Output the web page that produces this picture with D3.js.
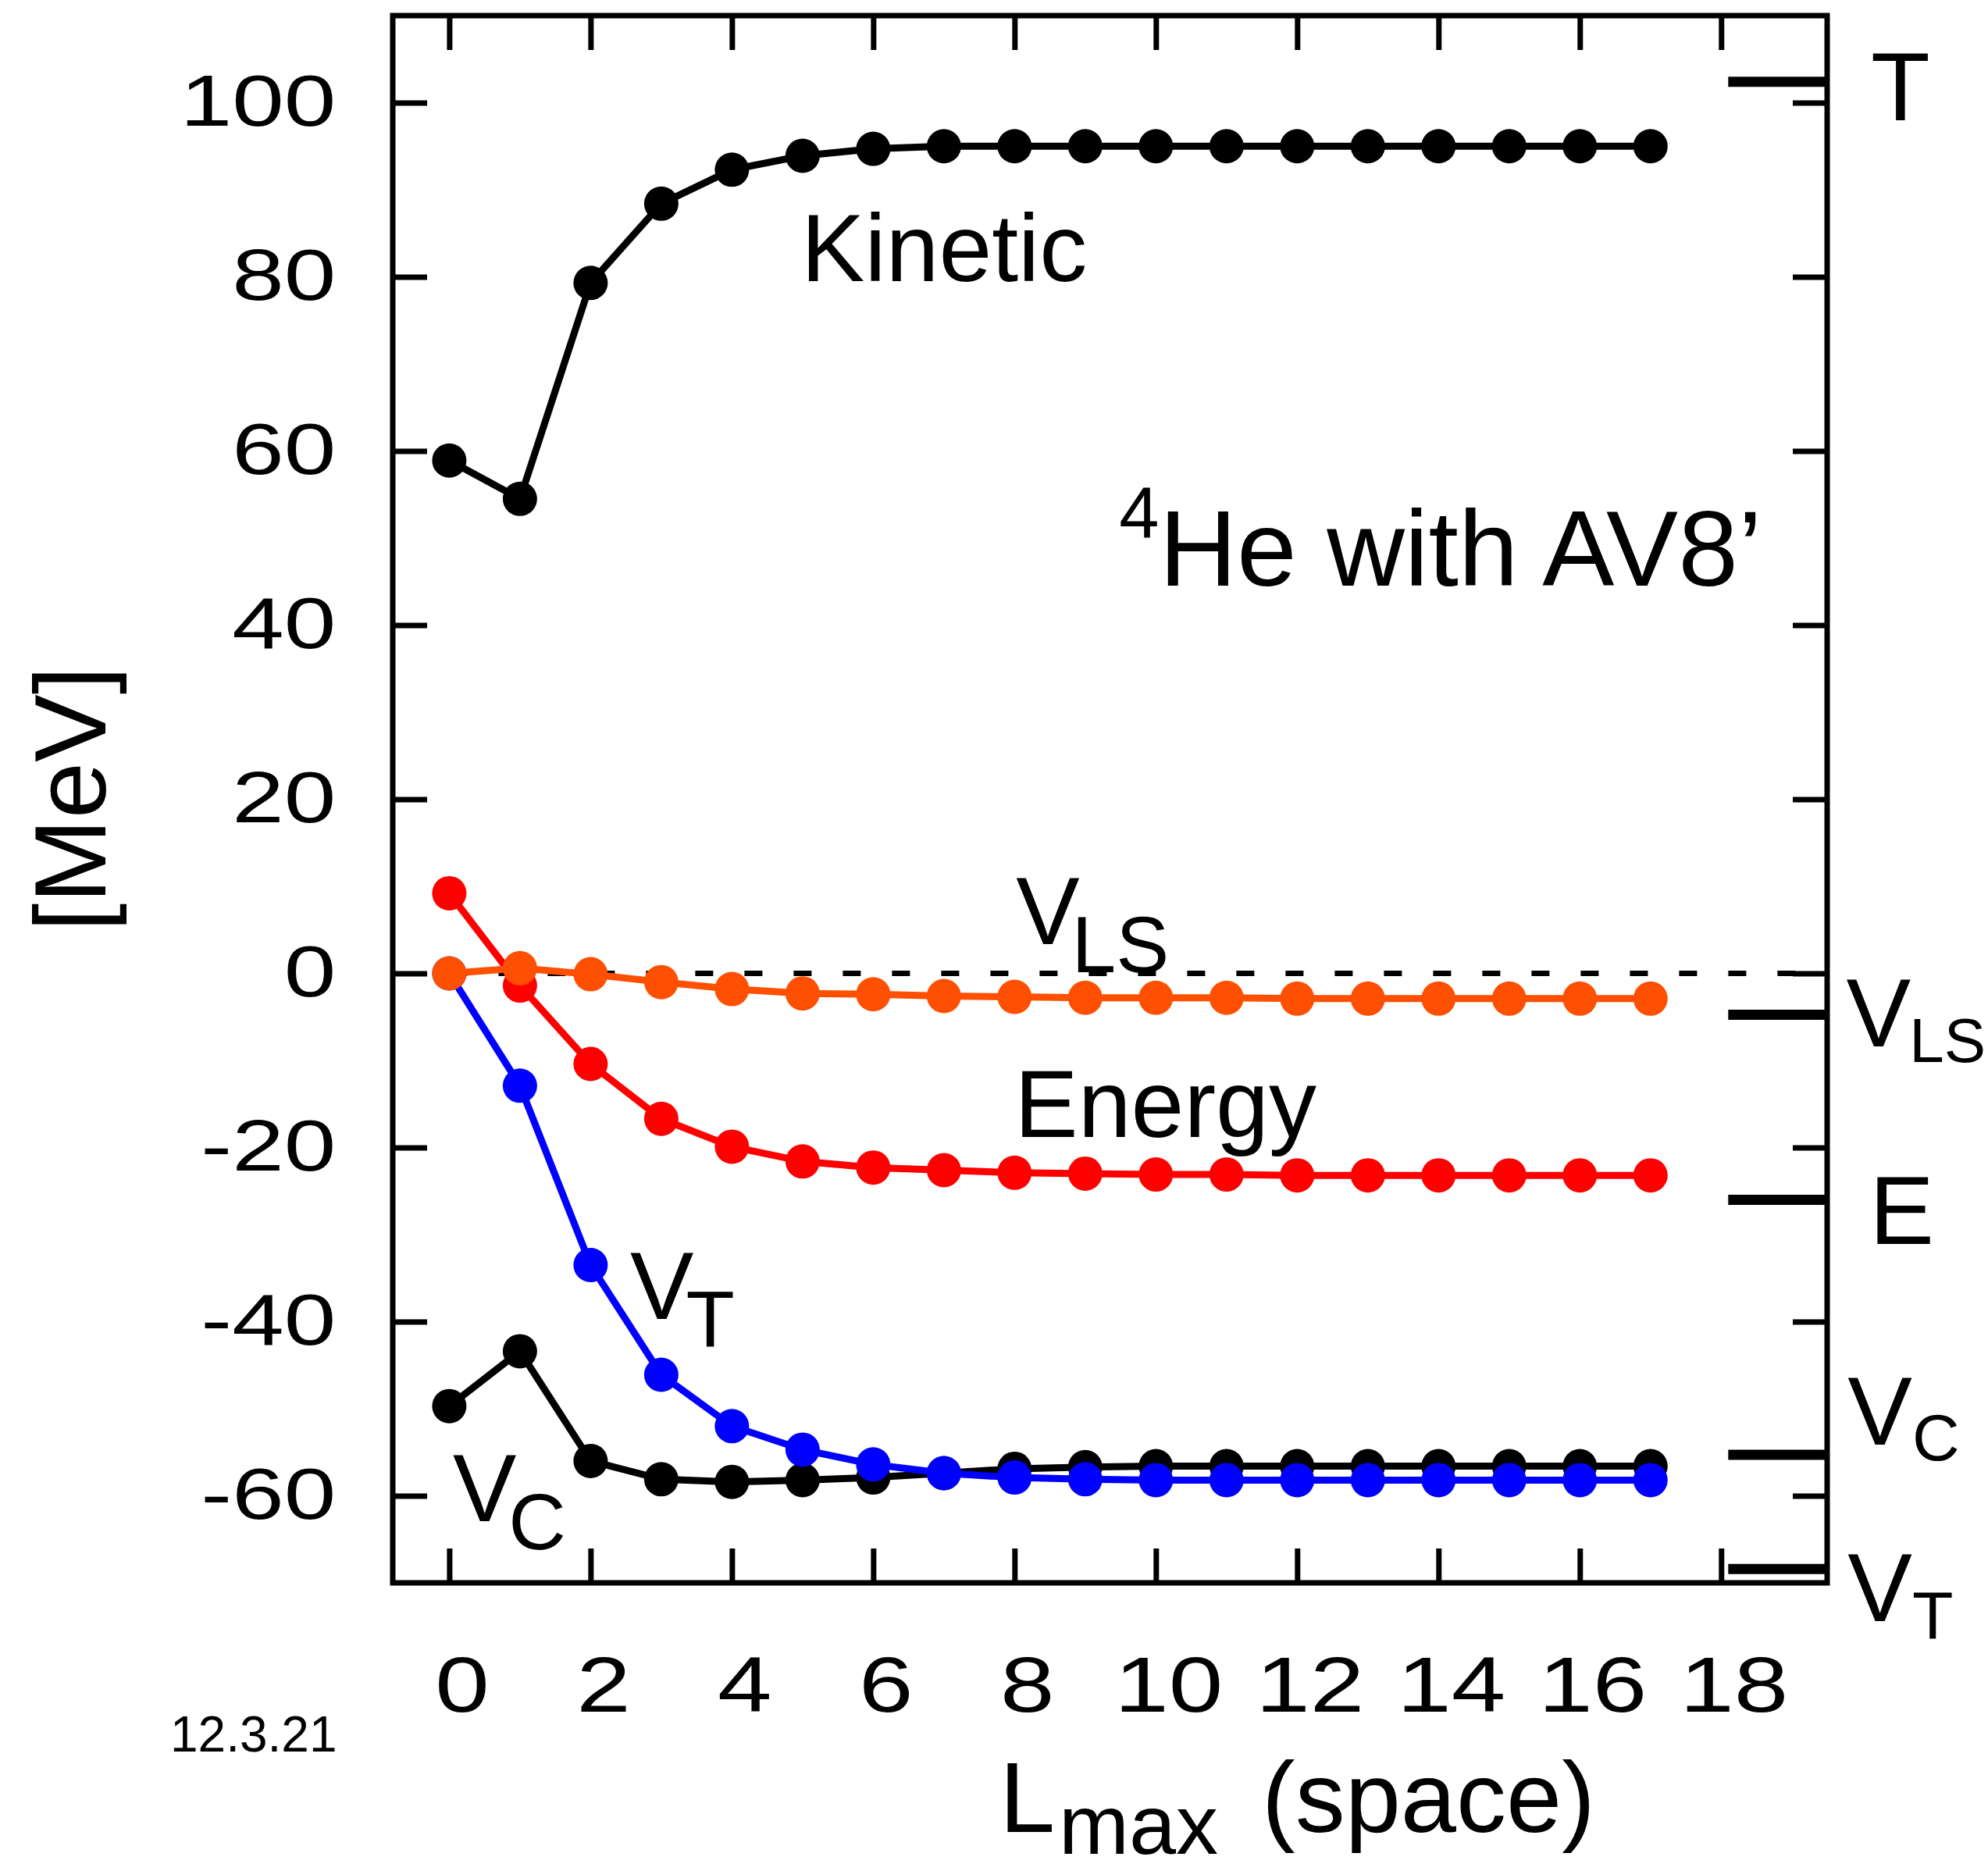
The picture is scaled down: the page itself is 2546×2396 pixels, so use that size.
<!DOCTYPE html>
<html>
<head>
<meta charset="utf-8">
<script src="https://cdn.jsdelivr.net/npm/d3@7"></script>
<style>
  body { margin: 0; background: #fff; }
  svg text { font-family: "Liberation Sans", Arial, Helvetica, sans-serif; fill: #000; }
</style>
</head>
<body>
<svg id="chart" width="2546" height="2396"></svg>
<script>
// Datos (MeV frente a Lmax)
var lmax = [0, 1, 2, 3, 4, 5, 6, 7, 8, 9, 10, 11, 12, 13, 14, 15, 16, 17];
var kinetic = [58.9, 54.5, 79.3, 88.4, 92.3, 93.9, 94.7, 95.0, 95.0, 95.0, 95.0, 95.0, 95.0, 95.0, 95.0, 95.0, 95.0, 95.0];
var vc = [-49.7, -43.4, -56.0, -58.1, -58.4, -58.2, -57.9, -57.4, -56.9, -56.7, -56.6, -56.6, -56.6, -56.6, -56.6, -56.6, -56.6, -56.6];
var vt = [0, -12.9, -33.5, -46.1, -52.0, -54.7, -56.4, -57.4, -57.9, -58.1, -58.2, -58.2, -58.2, -58.2, -58.2, -58.2, -58.2, -58.2];
var energy = [9.2, -1.4, -10.4, -16.7, -19.9, -21.6, -22.3, -22.6, -22.9, -23.0, -23.1, -23.1, -23.2, -23.2, -23.2, -23.2, -23.2, -23.2];
var vls = [0, 0.6, -0.1, -1.0, -1.8, -2.3, -2.4, -2.6, -2.7, -2.8, -2.8, -2.8, -2.9, -2.9, -2.9, -2.9, -2.9, -2.9];

// Valores exactos (marcas gruesas a la derecha)
var exactNames = ["T", "VLS", "E", "VC", "VT"];
var exactValues = [102.4, -4.75, -26.0, -55.3, -68.4];

var xTicks = [0, 2, 4, 6, 8, 10, 12, 14, 16, 18];
var yTicks = [-60, -40, -20, 0, 20, 40, 60, 80, 100];

var svg = d3.select("#chart");
var frameL = 503, frameR = 2340, frameT = 20, frameB = 2027;

var x = d3.scaleLinear().domain([-0.8, 19.5]).range([frameL, frameR]);
var y = d3.scaleLinear().domain([-70, 110]).range([frameB, frameT]);

// Ticks hacia dentro en los cuatro lados
var axB = svg.append("g").attr("transform", "translate(0," + frameB + ")")
    .call(d3.axisBottom(x).tickValues(xTicks).tickSize(-44).tickPadding(92));
var axT = svg.append("g").attr("transform", "translate(0," + frameT + ")")
    .call(d3.axisTop(x).tickValues(xTicks).tickSize(-44).tickFormat(""));
var axL = svg.append("g").attr("transform", "translate(" + frameL + ",0)")
    .call(d3.axisLeft(y).tickValues(yTicks).tickSize(-44).tickPadding(56)
        .tickFormat(function (d) { return d.toString(); }));
var axR = svg.append("g").attr("transform", "translate(" + frameR + ",0)")
    .call(d3.axisRight(y).tickValues(yTicks).tickSize(-44).tickFormat(""));

[axB, axT, axL, axR].forEach(function (ax) {
    ax.select(".domain").remove();
    ax.selectAll("line").attr("stroke", "#000").attr("stroke-width", 7);
    ax.attr("font-family", null).attr("font-size", null);
});

axB.selectAll("text")
    .attr("font-size", 100)
    .attr("dy", null)
    .attr("y", 165)
    .attr("transform", "translate(16,0) scale(1.25,1)");

axL.selectAll("text")
    .attr("font-size", 92)
    .attr("transform", "scale(1.3,1)");

// Linea de cero discontinua
svg.append("line")
    .attr("x1", x(0)).attr("x2", x(19.5))
    .attr("y1", y(0)).attr("y2", y(0))
    .attr("stroke", "#000")
    .attr("stroke-width", 7)
    .attr("stroke-dasharray", "23,40");

// Series
var series = [
    { values: kinetic, color: "#000000" },
    { values: vc, color: "#000000" },
    { values: vt, color: "#0000ff" },
    { values: energy, color: "#ff0000" },
    { values: vls, color: "#ff4f00" }
];

var line = d3.line()
    .x(function (d, i) { return x(lmax[i]); })
    .y(function (d) { return y(d); });

series.forEach(function (s) {
    var g = svg.append("g");
    g.append("path")
        .attr("d", line(s.values))
        .attr("fill", "none")
        .attr("stroke", s.color)
        .attr("stroke-width", 9);
    g.selectAll("circle")
        .data(s.values)
        .enter().append("circle")
        .attr("cx", function (d, i) { return x(lmax[i]); })
        .attr("cy", function (d) { return y(d); })
        .attr("r", 22)
        .attr("fill", s.color);
});

// Marcas de los valores exactos
svg.selectAll(".exact")
    .data(exactValues)
    .enter().append("line")
    .attr("class", "exact")
    .attr("x1", x(18.1)).attr("x2", frameR)
    .attr("y1", function (d) { return y(d); })
    .attr("y2", function (d) { return y(d); })
    .attr("stroke", "#000")
    .attr("stroke-width", 13);

// Marco
svg.append("rect")
    .attr("x", frameL).attr("y", frameT)
    .attr("width", frameR - frameL).attr("height", frameB - frameT)
    .attr("fill", "none")
    .attr("stroke", "#000")
    .attr("stroke-width", 7);

// Etiquetas con subindice
function label(xv, yv, main, sub, size, subSize, drop, dx) {
    var t = svg.append("text")
        .attr("x", x(xv))
        .attr("y", y(yv))
        .attr("font-size", size)
        .text(main);
    if (sub) {
        t.append("tspan")
            .attr("dx", dx)
            .attr("dy", drop)
            .attr("font-size", subSize)
            .text(sub);
    }
    return t;
}

label(4.98, 79.5, "Kinetic", null, 122);
label(8.0, -18.75, "Energy", null, 122);
label(8.02, 3.4, "V", "LS", 122, 102, 36, -10);
label(2.56, -39.7, "V", "T", 122, 102, 36, -10);
label(0.05, -62.9, "V", "C", 122, 102, 36, -10);

// Etiquetas a la derecha del marco
label(20.12, 98.0, "T", null, 124);
label(19.77, -8.4, "V", "LS", 124, 80, 20, -2);
label(20.1, -31.1, "E", null, 124);
label(19.79, -54.1, "V", "C", 124, 84, 20, 0);
label(19.79, -74.4, "V", "T", 124, 86, 22, 0);

// Titulo dentro del grafico
var he = svg.append("text")
    .attr("x", x(9.48))
    .attr("y", y(44.5))
    .attr("font-size", 138);
he.append("tspan").attr("font-size", 92).attr("dy", -62).text("4");
he.append("tspan").attr("dy", 62).text("He with AV8\u2019");

// Titulos de los ejes
svg.append("text")
    .attr("transform", "translate(135,1023) rotate(-90)")
    .attr("text-anchor", "middle")
    .attr("font-size", 130)
    .text("[MeV]");

var xt = svg.append("text")
    .attr("y", 2346)
    .attr("font-size", 128);
xt.append("tspan").attr("x", 1280).text("L");
xt.append("tspan").attr("x", 1356).attr("dy", 28).attr("font-size", 108).text("max");
xt.append("tspan").attr("x", 1616).attr("dy", -28).text("(space)");

svg.append("text")
    .attr("x", 218)
    .attr("y", 2243)
    .attr("font-size", 64)
    .text("12.3.21");
</script>
</body>
</html>
